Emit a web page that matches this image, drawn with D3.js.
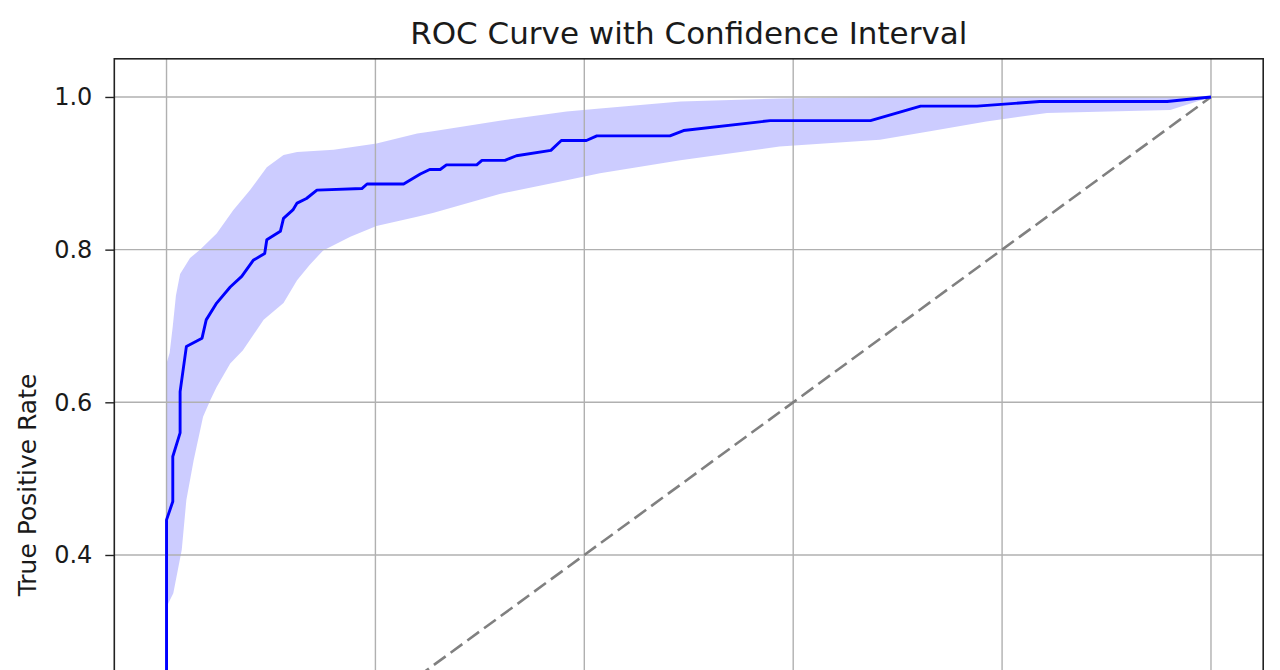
<!DOCTYPE html>
<html>
<head>
<meta charset="utf-8">
<script src="https://cdn.jsdelivr.net/npm/d3@7"></script>
<style>
  html, body { margin: 0; padding: 0; background: #fff; overflow: hidden; }
  svg { display: block; font-family: "DejaVu Sans", sans-serif; }
</style>
</head>
<body>
<script>
// mean ROC curve (fpr / tpr)
var meanFpr = [0, 0, 0.006, 0.006, 0.013, 0.013, 0.019, 0.034, 0.038, 0.048, 0.061, 0.072, 0.083, 0.094, 0.096,
  0.109, 0.112, 0.121, 0.125, 0.134, 0.144, 0.187, 0.192, 0.227, 0.243, 0.252, 0.262, 0.268, 0.297, 0.302,
  0.324, 0.335, 0.368, 0.378, 0.402, 0.412, 0.482, 0.495, 0.578, 0.674, 0.722, 0.776, 0.836, 0.958, 1.0];
var meanTpr = [0, 0.446, 0.470, 0.529, 0.560, 0.614, 0.673, 0.684, 0.708, 0.730, 0.751, 0.765, 0.786, 0.795, 0.813,
  0.824, 0.841, 0.852, 0.861, 0.867, 0.878, 0.880, 0.886, 0.886, 0.899, 0.905, 0.905, 0.911, 0.911, 0.917,
  0.917, 0.923, 0.930, 0.943, 0.943, 0.949, 0.949, 0.956, 0.969, 0.969, 0.988, 0.988, 0.994, 0.994, 1.0];

// confidence band, upper edge
var upperFpr = [0, 0.003, 0.006, 0.009, 0.013, 0.0225, 0.032, 0.048, 0.064, 0.080, 0.096, 0.112, 0.125, 0.160,
  0.201, 0.240, 0.255, 0.319, 0.383, 0.415, 0.492, 0.587, 0.683, 1.0];
var upperTpr = [0.651, 0.665, 0.700, 0.740, 0.768, 0.789, 0.800, 0.821, 0.852, 0.878, 0.908, 0.924, 0.928, 0.931,
  0.939, 0.952, 0.955, 0.969, 0.981, 0.985, 0.994, 0.998, 1.0, 1.0];

// confidence band, lower edge
var lowerFpr = [0, 0.0065, 0.0146, 0.019, 0.026, 0.035, 0.042, 0.048, 0.061, 0.073, 0.093, 0.112, 0.125, 0.137,
  0.150, 0.176, 0.201, 0.240, 0.255, 0.319, 0.383, 0.415, 0.492, 0.587, 0.683, 0.731, 0.785, 0.843, 0.961, 1.0];
var lowerTpr = [0.332, 0.350, 0.407, 0.472, 0.524, 0.581, 0.603, 0.620, 0.651, 0.668, 0.708, 0.730, 0.760, 0.780,
  0.799, 0.817, 0.831, 0.843, 0.848, 0.873, 0.891, 0.900, 0.917, 0.935, 0.944, 0.955, 0.968, 0.979, 0.983, 1.0];

// grid positions, and the tick labels that the crop actually shows
var gridValues = [0, 0.2, 0.4, 0.6, 0.8, 1.0];
var yTickLabels = [0.4, 0.6, 0.8, 1.0];

var W = 1280, H = 670;
// plot box (the bottom runs past the window, as in the reference crop)
var boxL = 114.3, boxR = 1263.2, boxT = 58.8, boxB = 898.5;

var svg = d3.select('body').append('svg').attr('width', W).attr('height', H);

var x = d3.scaleLinear().domain([-0.05, 1.05]).range([boxL, boxR]);
var y = d3.scaleLinear().domain([-0.05, 1.05]).range([boxB, boxT]);

svg.append('defs').append('clipPath').attr('id', 'plot')
  .append('rect').attr('x', boxL).attr('y', boxT).attr('width', boxR - boxL).attr('height', boxB - boxT);

var plot = svg.append('g').attr('clip-path', 'url(#plot)');

// band: upper edge forward, lower edge back
var upperPts = upperFpr.map(function(f, i) { return [f, upperTpr[i]]; });
var lowerPts = lowerFpr.map(function(f, i) { return [f, lowerTpr[i]]; }).reverse();
var poly = d3.line().x(function(d) { return x(d[0]); }).y(function(d) { return y(d[1]); });
plot.append('path')
  .attr('d', poly(upperPts.concat(lowerPts)) + 'Z')
  .attr('fill', 'blue').attr('fill-opacity', 0.2).attr('stroke', 'none');

// grid over the band
plot.selectAll('.vgrid').data(gridValues).enter().append('line')
  .attr('x1', function(d) { return x(d); }).attr('x2', function(d) { return x(d); })
  .attr('y1', boxT).attr('y2', boxB)
  .attr('stroke', '#b0b0b0').attr('stroke-width', 1.4);
plot.selectAll('.hgrid').data(gridValues).enter().append('line')
  .attr('y1', function(d) { return y(d); }).attr('y2', function(d) { return y(d); })
  .attr('x1', boxL).attr('x2', boxR)
  .attr('stroke', '#b0b0b0').attr('stroke-width', 1.4);

// chance line
plot.append('line')
  .attr('x1', x(0)).attr('y1', y(0)).attr('x2', x(1)).attr('y2', y(1))
  .attr('stroke', '#808080').attr('stroke-width', 2.6)
  .attr('stroke-dasharray', '14.5,6.2');

// mean curve
var meanPts = meanFpr.map(function(f, i) { return [f, meanTpr[i]]; });
plot.append('path')
  .attr('d', poly(meanPts))
  .attr('fill', 'none').attr('stroke', 'blue').attr('stroke-width', 2.9)
  .attr('stroke-linejoin', 'round');

// y axis (labels below 0.4 fall outside the crop)
var yAxis = d3.axisLeft(y).tickValues(yTickLabels).tickFormat(d3.format('.1f')).tickSize(9).tickPadding(13);
var gy = svg.append('g').attr('transform', 'translate(' + boxL + ',0)').call(yAxis);
gy.select('.domain').remove();
gy.selectAll('.tick line').attr('stroke', '#222').attr('stroke-width', 1.4);
gy.selectAll('.tick text').attr('fill', '#1a1a1a').style('font-size', '24px')
  .style('font-family', '"DejaVu Sans", sans-serif');

// the x axis sits below the window, so it is left out

// frame
svg.append('rect').attr('x', boxL).attr('y', boxT).attr('width', boxR - boxL).attr('height', boxB - boxT)
  .attr('fill', 'none').attr('stroke', '#222').attr('stroke-width', 1.6);

// title and label
svg.append('text').attr('x', (boxL + boxR) / 2).attr('y', 44).attr('text-anchor', 'middle')
  .attr('fill', '#1a1a1a').style('font-size', '31px').text('ROC Curve with Confidence Interval');
svg.append('text').attr('transform', 'translate(36,485) rotate(-90)').attr('text-anchor', 'middle')
  .attr('fill', '#1a1a1a').style('font-size', '25px').text('True Positive Rate');
</script>
</body>
</html>
